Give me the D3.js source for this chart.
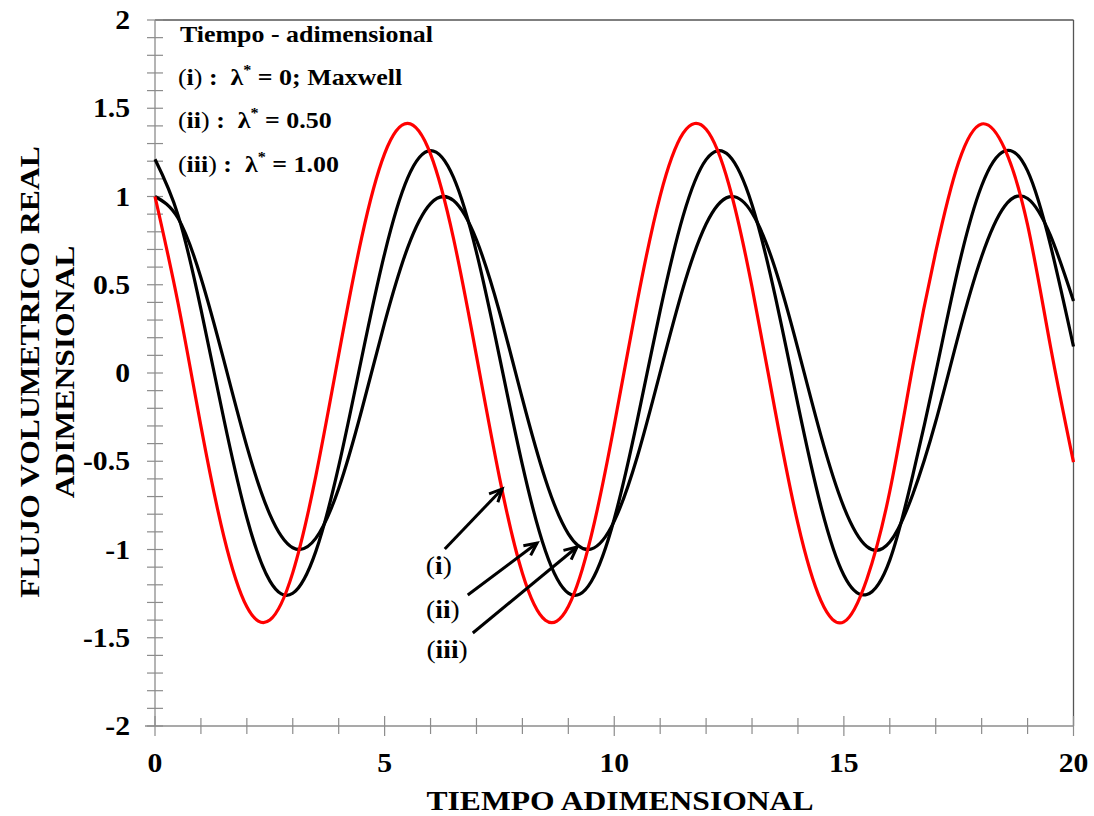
<!DOCTYPE html>
<html>
<head>
<meta charset="utf-8">
<script src="https://cdn.jsdelivr.net/npm/d3@7"></script>
<style>
  html, body { margin: 0; padding: 0; background: #fff; }
  svg { display: block; }
  text { font-family: "Liberation Serif", "Times New Roman", serif; font-weight: bold; fill: #000; }
</style>
</head>
<body>
<svg id="chart" width="1094" height="816"></svg>
<script>
// ---- data ----
const timeValues = [0,0.5,1,1.5,2,2.5,3,3.5,4,4.5,5,5.5,6,6.5,7,7.5,8,8.5,9,9.5,10,
  10.5,11,11.5,12,12.5,13,13.5,14,14.5,15,15.5,16,16.5,17,17.5,18,18.5,19,19.5,20];

// (i) lambda* = 0, Maxwell (red)
const seriesI = [1.000,0.398,-0.301,-0.927,-1.325,-1.400,-1.131,-0.586,0.103,0.767,1.243,
  1.414,1.240,0.762,0.097,-0.591,-1.135,-1.401,-1.323,-0.922,-0.295,0.404,1.004,1.359,
  1.381,1.064,0.487,-0.209,-0.854,-1.290,-1.410,-1.168,-0.670,0.038,0.686,1.195,1.411,
  1.271,0.839,0.149,-0.505];

// (ii) lambda* = 0.50 (black)
const seriesII = [1.211,0.896,0.362,-0.262,-0.820,-1.178,-1.248,-1.012,-0.528,0.085,0.677,
  1.104,1.260,1.108,0.684,0.093,-0.521,-1.007,-1.247,-1.181,-0.827,-0.270,0.353,0.890,
  1.209,1.231,0.953,0.441,-0.179,-0.755,-1.146,-1.255,-1.060,-0.580,0.001,0.605,1.061,
  1.258,1.145,0.723,0.150];

// (iii) lambda* = 1.00 (black)
const seriesIII = [1.000,0.878,0.540,0.071,-0.416,-0.801,-0.990,-0.937,-0.654,-0.211,0.284,
  0.709,0.960,0.977,0.754,0.347,-0.146,-0.602,-0.911,-0.997,-0.839,-0.476,0.004,0.483,
  0.844,0.998,0.907,0.595,0.137,-0.355,-0.760,-0.983,-0.958,-0.688,-0.275,0.219,0.660,
  0.945,0.989,0.778,0.408];

const seriesNames = ["(i)", "(ii)", "(iii)"];
const seriesColors = ["#ff0000", "#000000", "#000000"];

const xMajorTicks = [0, 5, 10, 15, 20];
const xTickLabels = ["0", "5", "10", "15", "20"];
const yMajorTicks = [2, 1.5, 1, 0.5, 0, -0.5, -1, -1.5, -2];
const yTickLabels = ["2", "1.5", "1", "0.5", "0", "-0.5", "-1", "-1.5", "-2"];

const xTitle = "TIEMPO ADIMENSIONAL";
const yTitleLines = ["FLUJO VOLUMETRICO REAL", "ADIMENSIONAL"];
const legendTitle = "Tiempo - adimensional";
const legendRoman = ["i", "ii", "iii"];
const legendValues = ["0; Maxwell", "0.50", "1.00"];

// annotation arrows (data units): label position, arrow start, arrow tip
const annotLabelX = [6.18, 6.27, 6.36];
const annotLabelY = [-1.14, -1.39, -1.615];
const arrowStartX = [6.31, 6.81, 6.92];
const arrowStartY = [-0.997, -1.258, -1.473];
const arrowTipX = [7.56, 8.32, 9.19];
const arrowTipY = [-0.657, -0.963, -0.986];

// ---- drawing ----
const STRETCH = 1.17;
const svg = d3.select("#chart");
const x = d3.scaleLinear().domain([0, 20]).range([155, 1073.5]);
const y = d3.scaleLinear().domain([-2, 2]).range([726, 20]);

function stretch(sel, f) {
  sel.each(function () {
    const L = this.getComputedTextLength();
    d3.select(this).attr("textLength", L * (f || STRETCH)).attr("lengthAdjust", "spacingAndGlyphs");
  });
}

const axisColor = "#8c8c8c";
// frame: top and right borders
svg.append("line").attr("x1", x(0)).attr("x2", x(20)).attr("y1", y(2)).attr("y2", y(2))
  .attr("stroke", "#555").attr("stroke-width", 1.3);
svg.append("line").attr("x1", x(20)).attr("x2", x(20)).attr("y1", y(2)).attr("y2", y(-2))
  .attr("stroke", "#555").attr("stroke-width", 1.3);

// y axis
svg.append("line").attr("x1", x(0)).attr("x2", x(0)).attr("y1", y(2)).attr("y2", y(-2))
  .attr("stroke", axisColor).attr("stroke-width", 1.3);
const yMinor = y.ticks(40);
svg.append("g").selectAll("line").data(yMinor).join("line")
  .attr("x1", x(0) - 8).attr("x2", x(0) + 8)
  .attr("y1", d => y(d)).attr("y2", d => y(d))
  .attr("stroke", axisColor).attr("stroke-width", 1.2);
const yLab = svg.append("g").selectAll("text").data(yMajorTicks).join("text")
  .attr("x", 130).attr("y", d => y(d) + 9)
  .attr("text-anchor", "end").attr("font-size", 27)
  .text((d, i) => yTickLabels[i]);
stretch(yLab, 1.1);

// x axis
svg.append("line").attr("x1", x(0) - 10).attr("x2", x(20)).attr("y1", y(-2)).attr("y2", y(-2))
  .attr("stroke", axisColor).attr("stroke-width", 1.3);
const xMinor = x.ticks(20);
svg.append("g").selectAll("line").data(xMinor).join("line")
  .attr("x1", d => x(d)).attr("x2", d => x(d))
  .attr("y1", d => y(-2) - (d % 5 === 0 ? 10 : 8)).attr("y2", d => y(-2) + (d % 5 === 0 ? 10 : 8))
  .attr("stroke", axisColor).attr("stroke-width", 1.2);
const xLab = svg.append("g").selectAll("text").data(xMajorTicks).join("text")
  .attr("x", d => x(d)).attr("y", 772)
  .attr("text-anchor", "middle").attr("font-size", 27)
  .text((d, i) => xTickLabels[i]);
stretch(xLab, 1.1);

// axis titles
const xt = svg.append("text").attr("x", 620).attr("y", 810).attr("text-anchor", "middle")
  .attr("font-size", 27).text(xTitle);
stretch(xt);
const yt = svg.append("g").attr("transform", "translate(0,372) rotate(-90)");
const yt1 = yt.append("text").attr("x", 0).attr("y", 39).attr("text-anchor", "middle")
  .attr("font-size", 27).text(yTitleLines[0]);
const yt2 = yt.append("text").attr("x", 0).attr("y", 74).attr("text-anchor", "middle")
  .attr("font-size", 27).text(yTitleLines[1]);
stretch(yt1); stretch(yt2);

// series
const allSeries = [seriesI, seriesII, seriesIII];
const line = d3.line().x((d, i) => x(timeValues[i])).y(d => y(d)).curve(d3.curveNatural);
const order = [2, 1, 0];
svg.append("g").selectAll("path").data(order).join("path")
  .attr("d", k => line(allSeries[k]))
  .attr("fill", "none")
  .attr("stroke", k => seriesColors[k])
  .attr("stroke-width", 3.2)
  .attr("stroke-linejoin", "round");

// legend text block
const lg = svg.append("g");
const t0 = lg.append("text").attr("x", 180).attr("y", 42).attr("font-size", 24).text(legendTitle);
stretch(t0, 1.08);
const legBase = [85, 128, 172];
legendRoman.forEach((r, i) => {
  const t = lg.append("text").attr("x", 178).attr("y", legBase[i]).attr("font-size", 24)
    .attr("xml:space", "preserve");
  t.append("tspan").attr("font-weight", "normal").text("(");
  t.append("tspan").text(r);
  t.append("tspan").attr("font-weight", "normal").text(")");
  t.append("tspan").text(" :  \u03BB");
  t.append("tspan").attr("font-size", 15).attr("dy", -10).text("*");
  t.append("tspan").attr("dy", 10).text(" = " + legendValues[i]);
  stretch(t, 1.08);
});

// annotation arrows
const ag = svg.append("g");
seriesNames.forEach((name, i) => {
  const x1 = x(arrowStartX[i]), y1 = y(arrowStartY[i]);
  const x2 = x(arrowTipX[i]), y2 = y(arrowTipY[i]);
  ag.append("line").attr("x1", x1).attr("y1", y1).attr("x2", x2).attr("y2", y2)
    .attr("stroke", "#000").attr("stroke-width", 3);
  const ang = Math.atan2(y2 - y1, x2 - x1);
  const hl = 14, ha = 0.45;
  const p = [
    [x2 - hl * Math.cos(ang - ha), y2 - hl * Math.sin(ang - ha)],
    [x2, y2],
    [x2 - hl * Math.cos(ang + ha), y2 - hl * Math.sin(ang + ha)]
  ];
  ag.append("path").attr("d", d3.line()(p)).attr("fill", "none")
    .attr("stroke", "#000").attr("stroke-width", 3).attr("stroke-linejoin", "miter");
  const t = ag.append("text").attr("x", x(annotLabelX[i])).attr("y", y(annotLabelY[i]))
    .attr("text-anchor", "middle").attr("font-size", 25);
  t.append("tspan").attr("font-weight", "normal").text("(");
  t.append("tspan").text(legendRoman[i]);
  t.append("tspan").attr("font-weight", "normal").text(")");
  stretch(t, 1.1);
});
</script>
</body>
</html>
